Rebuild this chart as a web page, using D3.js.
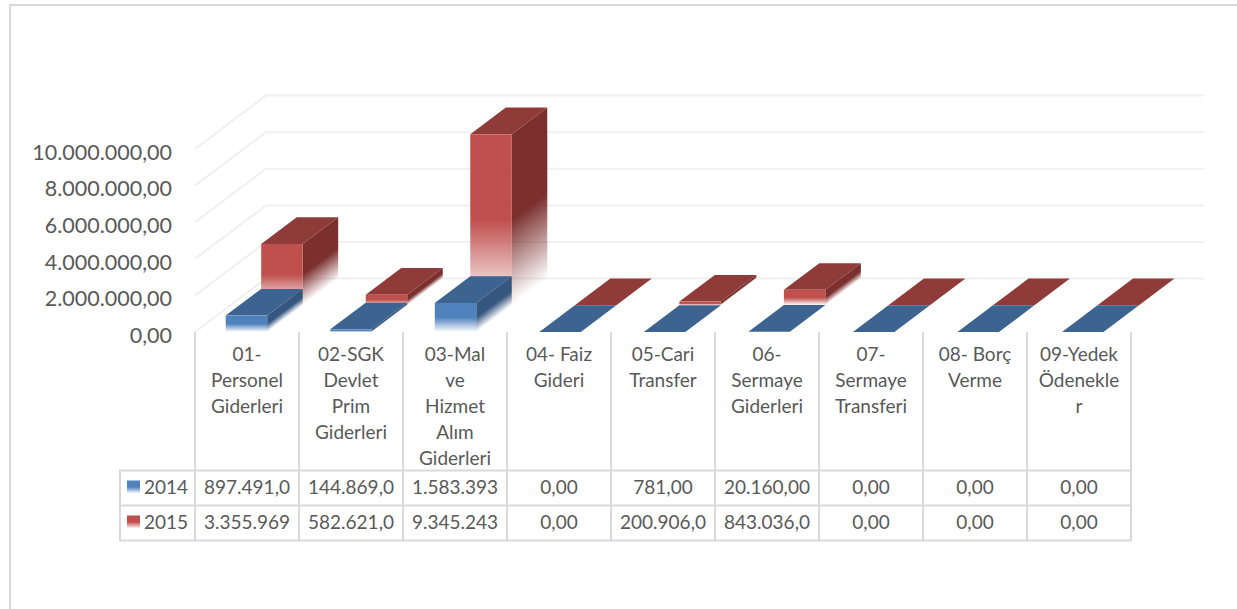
<!DOCTYPE html>
<html>
<head>
<meta charset="utf-8">
<script src="https://cdn.jsdelivr.net/npm/d3@7"></script>
<style>
  html, body { margin: 0; padding: 0; background: #fff; }
  svg { display: block; }
  text { font-family: Lato, sans-serif; fill: #595959; }
</style>
</head>
<body>
<div id="chart-container"></div>
<script>
var categories = [
  ['01-', 'Personel', 'Giderleri'],
  ['02-SGK', 'Devlet', 'Prim', 'Giderleri'],
  ['03-Mal', 've', 'Hizmet', 'Alım', 'Giderleri'],
  ['04- Faiz', 'Gideri'],
  ['05-Cari', 'Transfer'],
  ['06-', 'Sermaye', 'Giderleri'],
  ['07-', 'Sermaye', 'Transferi'],
  ['08- Borç', 'Verme'],
  ['09-Yedek', 'Ödenekle', 'r']
]
var values2014 = [897491, 144869, 1583393, 0, 781, 20160, 0, 0, 0]
var values2015 = [3355969, 582621, 9345243, 0, 200906, 843036, 0, 0, 0]
var labels2014 = ['897.491,0', '144.869,0', '1.583.393', '0,00', '781,00', '20.160,00', '0,00', '0,00', '0,00']
var labels2015 = ['3.355.969', '582.621,0', '9.345.243', '0,00', '200.906,0', '843.036,0', '0,00', '0,00', '0,00']
var yTicks = [0, 2000000, 4000000, 6000000, 8000000, 10000000]
var yTickLabels = ['0,00', '2.000.000,00', '4.000.000,00', '6.000.000,00', '8.000.000,00', '10.000.000,00']

var width = 1237
var height = 609
var depthX = 35.5
var depthY = 26.7
var barW = 41.5
var base = 332
var rowY = [470.5, 505.5, 540.5]

var svg = d3.select('#chart-container')
  .append('svg')
  .attr('width', width)
  .attr('height', height)

var yScale = d3.scaleLinear().domain([0, 10000000]).range([base, 149])
var xTable = d3.scaleBand().domain(d3.range(9)).range([195, 1131])
var xBars = d3.scalePoint().domain(d3.range(9)).range([225.7, 1062])

/* fading fronts */
var defs = svg.append('defs')
function fade(id, color) {
  var g = defs.append('linearGradient').attr('id', id)
    .attr('x1', 0).attr('y1', 0).attr('x2', 0).attr('y2', 1)
  g.append('stop').attr('offset', '50%').attr('stop-color', color)
  g.append('stop').attr('offset', '100%').attr('stop-color', color).attr('stop-opacity', 0)
}
fade('front2014', '#4f81bd')
fade('side2014', '#34567f')
fade('front2015', '#c0504d')
fade('side2015', '#7b302e')

/* outer frame, open on the right */
svg.append('path')
  .attr('d', 'M10,609V5H1237')
  .attr('fill', 'none')
  .attr('stroke', '#d9d9d9')
  .attr('stroke-width', 2)

/* walls */
var wall = svg.append('g').attr('fill', 'none').attr('stroke', '#f0f0f0').attr('stroke-width', 2)
yTicks.forEach(function(t) {
  var y = yScale(t) - 2 * depthY
  wall.append('path').attr('d', 'M195,' + yScale(t) + 'L' + (195 + 2 * depthX) + ',' + y + 'H1204')
})

/* y axis */
var yAxis = svg.append('g')
  .attr('transform', 'translate(172,3.5)')
  .call(d3.axisLeft(yScale).tickValues(yTicks).tickSize(0).tickPadding(0)
    .tickFormat(function(d, i) { return yTickLabels[i] }))
yAxis.select('.domain').remove()
yAxis.selectAll('text').style('font-size', '21.5px')

function drawBar(i, value, offset, key) {
  var x = xBars(i) + offset * depthX
  var b = base - offset * depthY
  var h = base - yScale(value)
  var g = svg.append('g')
  /* top */
  g.append('path')
    .attr('d', 'M' + x + ',' + (b - h) + 'l' + depthX + ',' + (-depthY) + 'h' + barW + 'l' + (-depthX) + ',' + depthY + 'z')
    .attr('fill', key == 'front2014' ? '#3d6390' : '#8f3b39')
  if (h < 0.5) return
  /* side, sheared rect so the fade follows the face */
  g.append('rect')
    .attr('transform', 'matrix(1,' + (-depthY / depthX) + ',0,1,' + (x + barW) + ',' + (b - h) + ')')
    .attr('width', depthX)
    .attr('height', h)
    .attr('fill', 'url(#' + key.replace('front', 'side') + ')')
  /* front */
  g.append('rect')
    .attr('x', x)
    .attr('y', b - h)
    .attr('width', barW)
    .attr('height', h)
    .attr('fill', 'url(#' + key + ')')
}

categories.forEach(function(c, i) {
  drawBar(i, values2015[i], 1, 'front2015')
  drawBar(i, values2014[i], 0, 'front2014')
})

/* data table */
var grid = svg.append('g').attr('stroke', '#d9d9d9').attr('stroke-width', 2).attr('fill', 'none')
rowY.forEach(function(y) {
  grid.append('line').attr('x1', 119).attr('x2', 1132).attr('y1', y).attr('y2', y)
})
grid.append('line').attr('x1', 120).attr('x2', 120).attr('y1', rowY[0]).attr('y2', rowY[2])
d3.range(10).forEach(function(i) {
  var x = i < 9 ? xTable(i) : xTable.range()[1]
  grid.append('line').attr('x1', x).attr('x2', x).attr('y1', base).attr('y2', rowY[2])
})

var tbl = svg.append('g').attr('text-anchor', 'middle').style('font-size', '19px')
categories.forEach(function(lines, i) {
  var cx = xTable(i) + xTable.bandwidth() / 2
  lines.forEach(function(l, j) {
    tbl.append('text').attr('x', cx).attr('y', 361 + j * 26).text(l)
  })
  tbl.append('text').attr('x', cx).attr('y', 494).text(labels2014[i])
  tbl.append('text').attr('x', cx).attr('y', 529).text(labels2015[i])
})

/* legend keys */
var legend = [['2014', 'front2014', rowY[0]], ['2015', 'front2015', rowY[1]]]
legend.forEach(function(d) {
  svg.append('rect').attr('x', 127).attr('y', d[2] + 10).attr('width', 13).attr('height', 13)
    .attr('fill', 'url(#' + d[1] + ')')
  svg.append('text').attr('x', 144).attr('y', d[2] + 23.5).style('font-size', '19px').text(d[0])
})
</script>
</body>
</html>
